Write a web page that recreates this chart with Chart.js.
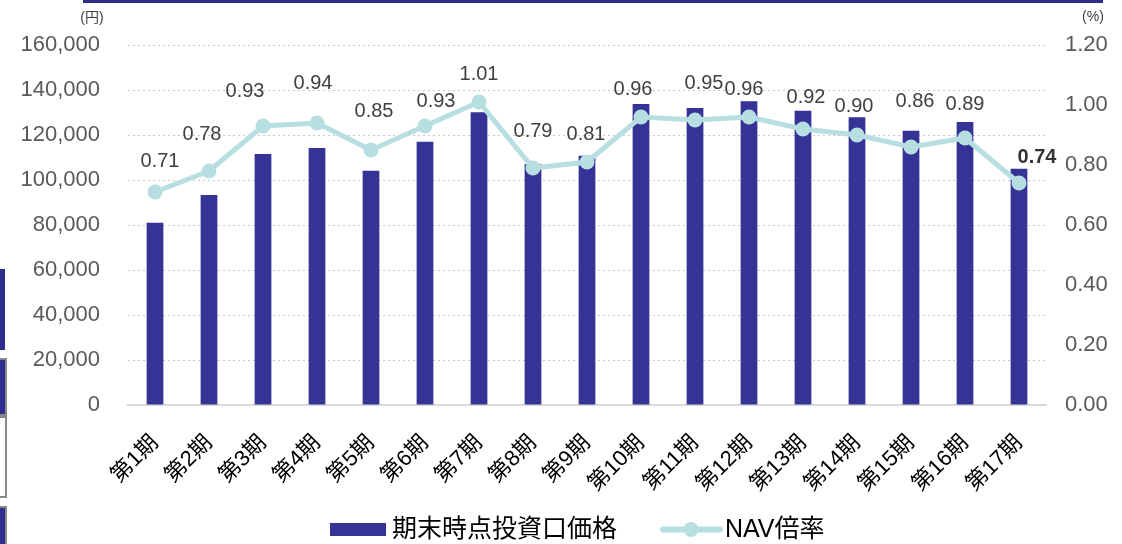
<!DOCTYPE html>
<html lang="ja">
<head>
<meta charset="UTF-8">
<title>期末時点投資口価格とNAV倍率</title>
<script src="https://cdn.jsdelivr.net/npm/chart.js@4"></script>
<style>
  html, body { margin: 0; padding: 0; background: #fff; }
  .wrap { position: relative; width: 1122px; height: 544px; overflow: hidden; }
  .topline { position: absolute; left: 83px; top: 0; width: 1020px; height: 3px; background: #2e2b8a; }
  .edge { position: absolute; left: 0; width: 5px; box-sizing: border-box; }
  .e1 { top: 269px; height: 81px; background: #302d8c; }
  .e2 { top: 358px; height: 58px; background: #302d8c; border: 2px solid #888; border-left: none; width: 7px; }
  .e3 { top: 416px; height: 82px; background: #fff; border: 2px solid #888; border-left: none; width: 7px; }
  .e4 { top: 506px; height: 40px; background: #302d8c; border: 2px solid #888; border-left: none; width: 7px; }
</style>
</head>
<body>
<div class="wrap">
  <div class="topline"></div>
  <div class="edge e1"></div>
  <div class="edge e2"></div>
  <div class="edge e3"></div>
  <div class="edge e4"></div>
  <canvas id="myChart" width="1122" height="544"></canvas>
</div>

<script>
// 決算期
const periods = ['第1期','第2期','第3期','第4期','第5期','第6期','第7期','第8期','第9期',
  '第10期','第11期','第12期','第13期','第14期','第15期','第16期','第17期'];

// 期末時点投資口価格（円）
const unitPrice = [81000, 93300, 111600, 114200, 104100, 117000, 130100, 107000, 110800,
  133800, 132000, 135000, 130800, 127900, 121900, 125800, 105000];

// NAV倍率
const navRatio = [0.71, 0.78, 0.93, 0.94, 0.85, 0.93, 1.01, 0.79, 0.81,
  0.96, 0.95, 0.96, 0.92, 0.90, 0.86, 0.89, 0.74];

// label nudges [dx, distance above point]
const labelShift = [[5,31],[-7,37],[-18,35],[-4,40],[3,39],[11,25],[0,28],[0,37],[-1,28],
  [-8,28],[9,37],[-5,28],[3,32],[-3,29],[4,46],[0,34],[18,26]];

const NAVY = '#363397';
const TEAL = '#b7dfe2';
const FONT = "'Liberation Sans', Arial, 'Noto Sans CJK JP', sans-serif";

// value labels, unit titles and legend
const extras = {
  id: 'extras',
  afterDatasetsDraw(chart) {
    const ctx = chart.ctx;
    const meta = chart.getDatasetMeta(1);
    ctx.save();
    ctx.textAlign = 'center';
    ctx.textBaseline = 'middle';
    meta.data.forEach((pt, i) => {
      const last = i === navRatio.length - 1;
      ctx.font = (last ? 'bold ' : '') + '20px ' + FONT;
      ctx.fillStyle = last ? '#333333' : '#404040';
      ctx.fillText(navRatio[i].toFixed(2), pt.x + labelShift[i][0], pt.y - labelShift[i][1]);
    });

    // units
    ctx.font = '14px ' + FONT;
    ctx.fillStyle = '#404040';
    ctx.fillText('(円)', 92, 18);
    ctx.fillText('(%)', 1093, 17);

    // legend
    const ly = 529.5;
    ctx.textAlign = 'left';
    ctx.font = '25px ' + FONT;
    ctx.fillStyle = NAVY;
    ctx.fillRect(330, ly - 6.5, 56, 13);
    ctx.fillStyle = '#000';
    ctx.fillText('期末時点投資口価格', 392, ly + 1);

    ctx.strokeStyle = TEAL;
    ctx.lineWidth = 6;
    ctx.lineCap = 'round';
    ctx.beginPath();
    ctx.moveTo(663, ly);
    ctx.lineTo(720, ly);
    ctx.stroke();
    ctx.fillStyle = TEAL;
    ctx.beginPath();
    ctx.arc(691, ly, 7.5, 0, Math.PI * 2);
    ctx.fill();
    ctx.fillStyle = '#000';
    ctx.fillText('NAV倍率', 725, ly + 1);
    ctx.restore();
  }
};

const ctx = document.getElementById('myChart');

const chart = new Chart(ctx, {
  type: 'bar',
  data: {
    labels: periods,
    datasets: [
      {
        type: 'bar',
        label: '期末時点投資口価格',
        data: unitPrice,
        backgroundColor: NAVY,
        borderWidth: 0,
        barPercentage: 0.31,
        categoryPercentage: 1,
        yAxisID: 'y',
        order: 2
      },
      {
        type: 'line',
        label: 'NAV倍率',
        data: navRatio,
        borderColor: TEAL,
        backgroundColor: TEAL,
        borderWidth: 5,
        pointRadius: 7.5,
        pointBorderWidth: 0,
        pointBackgroundColor: TEAL,
        tension: 0,
        yAxisID: 'y1',
        order: 1
      }
    ]
  },
  options: {
    responsive: false,
    animation: false,
    layout: { padding: { top: 45, bottom: 50, left: 0, right: 0 } },
    plugins: {
      legend: { display: false },
      tooltip: { enabled: false }
    },
    scales: {
      x: {
        grid: { display: false, drawTicks: false },
        border: { display: true, color: '#d9d9d9', width: 2 },
        ticks: {
          color: '#000',
          font: { family: FONT, size: 22 },
          minRotation: 45,
          maxRotation: 45,
          padding: 25,
          autoSkip: false
        },
        afterFit(scale) { scale.height = 89; }
      },
      y: {
        position: 'left',
        min: 0,
        max: 160000,
        grid: { color: '#c8c8c8', lineWidth: 1, drawTicks: false },
        border: { display: false, dash: [2, 3] },
        ticks: {
          stepSize: 20000,
          color: '#595959',
          font: { family: FONT, size: 22 },
          padding: 28,
          callback: v => v.toLocaleString('en-US')
        },
        afterFit(scale) { scale.width = 128; }
      },
      y1: {
        position: 'right',
        min: 0,
        max: 1.2,
        grid: { display: false, drawTicks: false },
        border: { display: false },
        ticks: {
          stepSize: 0.2,
          color: '#595959',
          font: { family: FONT, size: 22 },
          padding: 19,
          callback: v => Number(v).toFixed(2)
        },
        afterFit(scale) { scale.width = 76; }
      }
    }
  },
  plugins: [extras]
});
</script>
</body>
</html>
